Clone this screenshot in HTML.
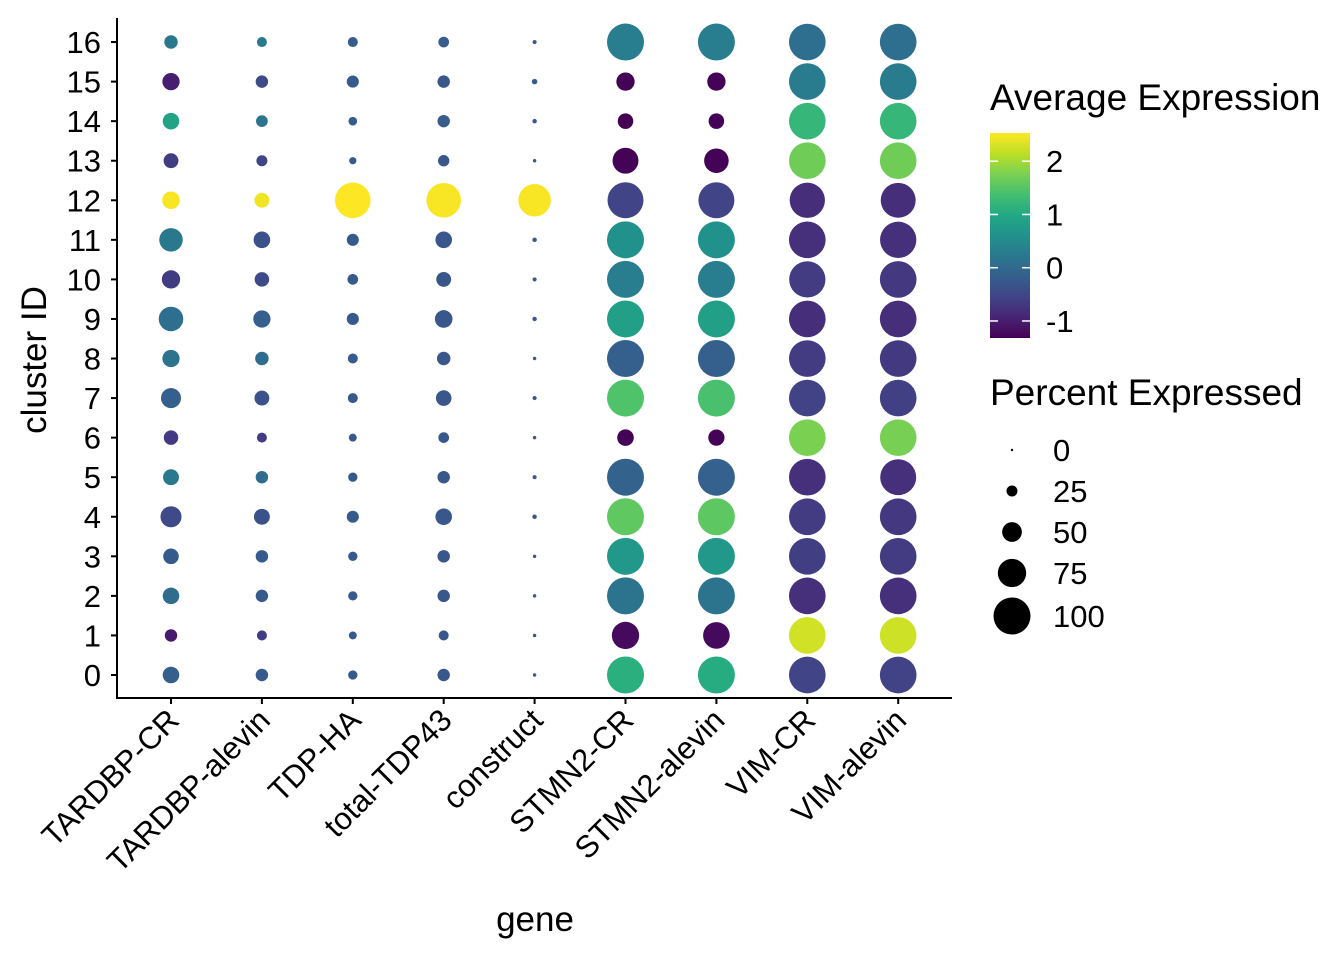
<!DOCTYPE html>
<html><head><meta charset="utf-8"><style>
body{margin:0;background:#fff}
svg{display:block;font-family:"Liberation Sans",Arial,sans-serif}
</style></head><body>
<svg id="chart" width="1344" height="960" xmlns="http://www.w3.org/2000/svg">
<defs><linearGradient id="vir" x1="0" y1="1" x2="0" y2="0">
<stop offset="0" stop-color="#440154"/><stop offset="0.1" stop-color="#482475"/><stop offset="0.2" stop-color="#414487"/><stop offset="0.3" stop-color="#355f8d"/><stop offset="0.4" stop-color="#2a788e"/><stop offset="0.5" stop-color="#21918c"/><stop offset="0.6" stop-color="#22a884"/><stop offset="0.7" stop-color="#44bf70"/><stop offset="0.8" stop-color="#7ad151"/><stop offset="0.9" stop-color="#bddf26"/><stop offset="1" stop-color="#fde725"/>
</linearGradient></defs>
<g id="marks"></g>
<line x1="117" y1="18" x2="117" y2="698.5" stroke="#000" stroke-width="2"/>
<line x1="116" y1="698" x2="952" y2="698" stroke="#000" stroke-width="2"/>
<g id="yticks"></g><g id="xticks"></g>
<text transform="translate(46,360) rotate(-90)" text-anchor="middle" font-size="35">cluster ID</text>
<text x="535" y="931" text-anchor="middle" font-size="35">gene</text>
<text x="990" y="110" font-size="37">Average Expression</text>
<rect x="990" y="133" width="40" height="205" fill="url(#vir)"/>
<g id="cbticks"></g>
<text x="990" y="405" font-size="37">Percent Expressed</text>
<g id="sizelegend"></g>
</svg>
<script>
const genes=["TARDBP-CR","TARDBP-alevin","TDP-HA","total-TDP43","construct","STMN2-CR","STMN2-alevin","VIM-CR","VIM-alevin"];
const clusters=[0,1,2,3,4,5,6,7,8,9,10,11,12,13,14,15,16];
const pctTardbpCR=[41,29,41,38,54,39,35,51,43,64,46,61,44,36,41,43,32];
const pctTardbpAlevin=[29,22,29,29,39,29,22,36,32,43,35,41,36,25,27,29,22];
const pctTdpHA=[20,16,20,20,28,20,16,22,22,28,24,28,96,14,18,28,22];
const pctTotalTdp=[29,22,29,29,41,29,24,38,32,44,36,41,93,26,29,29,24];
const pctConstruct=[3,3,3,3,6,5,3,5,3,6,5,6,87,3,6,9,5];
const pctStmnCR=[100,72,100,100,100,100,41,100,100,100,100,100,97,68,38,46,100];
const pctStmnAlevin=[100,70,100,100,100,100,40,100,100,100,100,100,97,64,38,46,100];
const pctVimCR=[99,99,99,99,99,99,99,99,99,99,98,99,95,99,99,99,99];
const pctVimAlevin=[99,99,99,99,99,97,99,99,99,99,99,98,94,99,99,99,99];
const expTardbpCR=[-0.17,-1.05,0.03,-0.24,-0.47,0.22,-0.67,-0.17,0.14,0.07,-0.63,0.22,2.5,-0.63,0.9,-1.0,0.22];
const expTardbpAlevin=[-0.24,-0.63,-0.24,-0.24,-0.36,0.03,-0.63,-0.36,0.03,-0.17,-0.47,-0.36,2.45,-0.55,0.14,-0.47,0.22];
const expTdpHA=[-0.24,-0.24,-0.24,-0.24,-0.24,-0.24,-0.24,-0.24,-0.24,-0.24,-0.24,-0.24,2.53,-0.24,-0.24,-0.24,-0.2];
const expTotalTdp=[-0.28,-0.28,-0.28,-0.28,-0.28,-0.28,-0.28,-0.28,-0.28,-0.28,-0.28,-0.28,2.5,-0.28,-0.2,-0.28,-0.2];
const expConstruct=[-0.24,-0.24,-0.24,-0.24,-0.24,-0.24,-0.24,-0.24,-0.24,-0.24,-0.24,-0.24,2.5,-0.24,-0.24,-0.24,-0.24];
const expStmnCR=[1.1,-1.22,0.14,0.72,1.57,-0.1,-1.3,1.45,-0.15,0.84,0.3,0.6,-0.55,-1.3,-1.32,-1.3,0.3];
const expStmnAlevin=[1.05,-1.22,0.14,0.72,1.55,-0.13,-1.3,1.4,-0.15,0.84,0.3,0.6,-0.55,-1.3,-1.3,-1.3,0.3];
const expVimCR=[-0.55,2.26,-0.8,-0.62,-0.65,-0.8,1.76,-0.58,-0.65,-0.82,-0.65,-0.8,-0.82,1.68,1.22,0.28,0.07];
const expVimAlevin=[-0.58,2.24,-0.8,-0.65,-0.7,-0.8,1.74,-0.6,-0.68,-0.82,-0.7,-0.8,-0.82,1.68,1.22,0.28,0.07];
const pctAll=[pctTardbpCR,pctTardbpAlevin,pctTdpHA,pctTotalTdp,pctConstruct,pctStmnCR,pctStmnAlevin,pctVimCR,pctVimAlevin];
const expAll=[expTardbpCR,expTardbpAlevin,expTdpHA,expTotalTdp,expConstruct,expStmnCR,expStmnAlevin,expVimCR,expVimAlevin];
const cbTicks=[-1,0,1,2];
const sizeTicks=[0,25,50,75,100];

const NS="http://www.w3.org/2000/svg";
const xScale=i=>171+i*90.9;
const yScale=c=>675-c*39.56;
const rScale=p=>1.2+0.173*p;
const eMin=-1.32,eMax=2.53;
const cbY=v=>338-(v-eMin)/(eMax-eMin)*205;
const vir=["#440154","#482475","#414487","#355f8d","#2a788e","#21918c","#22a884","#44bf70","#7ad151","#bddf26","#fde725"];
function hex(h){return [1,3,5].map(i=>parseInt(h.substr(i,2),16));}
function color(v){let t=Math.max(0,Math.min(1,(v-eMin)/(eMax-eMin)))*10;let i=Math.min(9,Math.floor(t)),f=t-i;
 const a=hex(vir[i]),b=hex(vir[i+1]);return "rgb("+a.map((x,k)=>Math.round(x+(b[k]-x)*f)).join(",")+")";}
function mk(tag,attrs,parent){const e=document.createElementNS(NS,tag);for(const k in attrs)e.setAttribute(k,attrs[k]);parent.appendChild(e);return e;}
const marks=document.getElementById('marks');
genes.forEach((g,gi)=>{clusters.forEach((c,ci)=>{
 const el=mk('circle',{cx:xScale(gi),cy:yScale(c),r:rScale(pctAll[gi][ci]),fill:color(expAll[gi][ci])},marks);
 
 
});});
const yt=document.getElementById('yticks');
clusters.forEach(c=>{
 const l=mk('line',{x1:111,x2:117,y1:yScale(c),y2:yScale(c),stroke:'#000','stroke-width':2},yt);
 
 
 const t=mk('text',{x:101,y:yScale(c)+11,'text-anchor':'end','font-size':31,fill:'#000'},yt);
 t.textContent=c;
 
 
});
const xt=document.getElementById('xticks');
genes.forEach((g,i)=>{
 const x=xScale(i);
 const l=mk('line',{x1:x,x2:x,y1:698,y2:704,stroke:'#000','stroke-width':2},xt);
 
 
 const t=mk('text',{transform:'translate('+(x+10)+',722) rotate(-45)','text-anchor':'end','font-size':31,fill:'#000'},xt);
 t.textContent=g;
 
 
});
const cb=document.getElementById('cbticks');
cbTicks.forEach(v=>{
 const y=cbY(v);
 mk('line',{x1:990,x2:998,y1:y,y2:y,stroke:'#fff','stroke-width':1.5},cb);
 mk('line',{x1:1022,x2:1030,y1:y,y2:y,stroke:'#fff','stroke-width':1.5},cb);
 const t=mk('text',{x:1046,y:y+11,'font-size':31},cb);
 t.textContent=v;
 
 
});
const sl=document.getElementById('sizelegend');
sizeTicks.forEach((p,i)=>{
 const y=[450,491,532,573,616][i];
 const c=mk('circle',{cx:1012,cy:y,r:rScale(p),fill:'#000'},sl);
 
 
 const t=mk('text',{x:1053,y:y+11,'font-size':31},sl);
 t.textContent=p;
 
 
});
</script>
</body></html>
